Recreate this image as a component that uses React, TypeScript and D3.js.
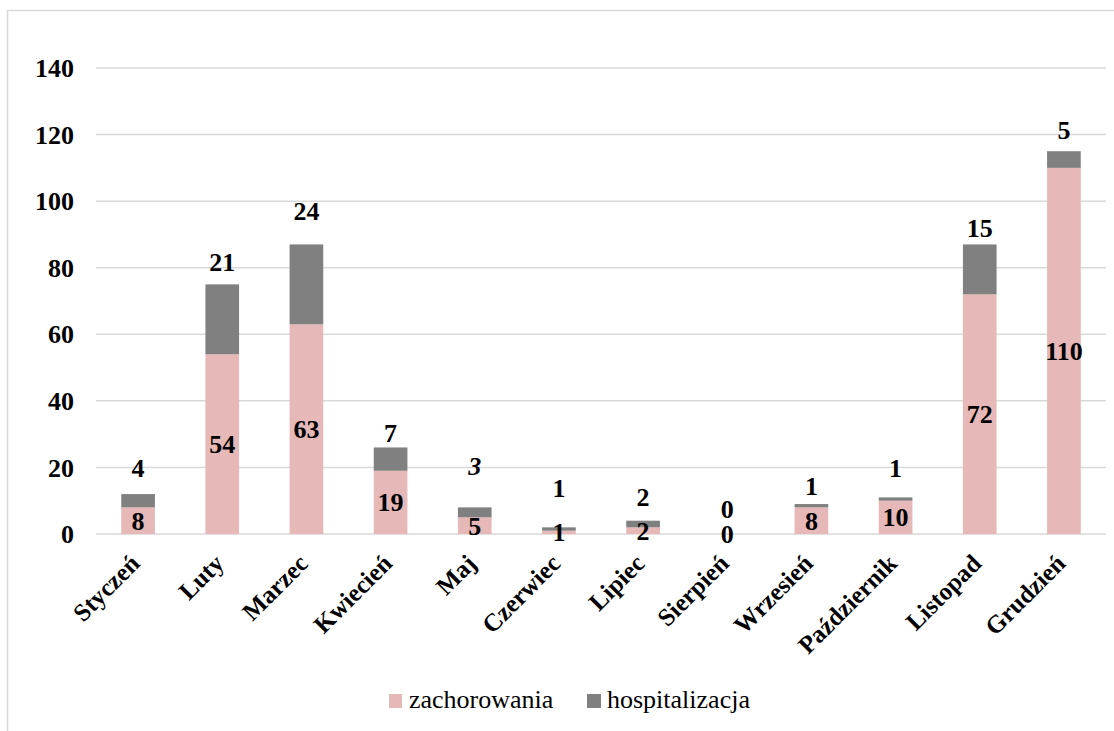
import React from 'react';
import * as d3 from 'd3';

const months = ['Styczeń', 'Luty', 'Marzec', 'Kwiecień', 'Maj', 'Czerwiec', 'Lipiec', 'Sierpień', 'Wrzesień', 'Październik', 'Listopad', 'Grudzień'];
const zachorowania = [8, 54, 63, 19, 5, 1, 2, 0, 8, 10, 72, 110];
const hospitalizacja = [4, 21, 24, 7, 3, 1, 2, 0, 1, 1, 15, 5];
// labels of the second series were dragged by hand in the original, lift in value units
const hospLabelLift = [7.8, 6.6, 10, 4.5, 12.6, 11.7, 7.2, 7.6, 5.4, 9, 5.1, 6.3];
const yTicks = [0, 20, 40, 60, 80, 100, 120, 140];

const W = 1114;
const H = 731;
const COLORS = { zach: '#e6b8b7', hosp: '#808080', grid: '#d9d9d9', text: '#000' };
const FONT = "'Liberation Serif', 'Times New Roman', Times, serif";

export default function App() {
  const x = d3.scaleBand<string>()
    .domain(months)
    .range([96, 1106])
    .paddingInner(0.6)
    .paddingOuter(0.3);

  const y = d3.scaleLinear().domain([0, 140]).range([534, 68]);

  const bw = x.bandwidth();

  return (
    <svg width={W} height={H} style={{ position: 'absolute', left: 0, top: 0, background: '#fff', fontFamily: FONT }}>
      {/* chart area border */}
      <rect x={7.5} y={10.5} width={W + 10} height={H + 10} fill="none" stroke={COLORS.grid} strokeWidth={1.5} />

      {/* gridlines + y ticks */}
      {yTicks.map(t => (
        <g key={t}>
          <line x1={96} x2={1106} y1={y(t)} y2={y(t)} stroke={COLORS.grid} strokeWidth={1.5} />
          <text x={74} y={y(t)} dy="0.35em" textAnchor="end" fontSize={26} fontWeight="bold" fill={COLORS.text} style={{ fontFamily: FONT }}>{t}</text>
        </g>
      ))}

      {/* stacked bars */}
      {months.map((m, i) => {
        const x0 = x(m)!;
        const z = zachorowania[i];
        const h = hospitalizacja[i];
        return (
          <g key={m}>
            <rect x={x0} y={y(z)} width={bw} height={y(0) - y(z)} fill={COLORS.zach} />
            <rect x={x0} y={y(z + h)} width={bw} height={y(z) - y(z + h)} fill={COLORS.hosp} />
          </g>
        );
      })}

      {/* data labels */}
      {months.map((m, i) => {
        const cx = x(m)! + bw / 2;
        const z = zachorowania[i];
        const h = hospitalizacja[i];
        return (
          <g key={m + '-lbl'} fontSize={26} fontWeight="bold" textAnchor="middle" fill={COLORS.text} style={{ fontFamily: FONT }}>
            <text x={cx} y={y(z / 2)} dy="0.35em">{z}</text>
            <text x={cx} y={y(z + h + hospLabelLift[i])} dy="0.35em" fontStyle={m === 'Maj' ? 'italic' : 'normal'}>{h}</text>
          </g>
        );
      })}

      {/* category labels */}
      {months.map(m => {
        const cx = x(m)! + bw / 2 + 3;
        return (
          <text key={m + '-cat'} transform={`translate(${cx},${565}) rotate(-45)`} textAnchor="end" fontSize={25} fontWeight="bold" fill={COLORS.text} style={{ fontFamily: FONT }}>{m}</text>
        );
      })}

      {/* legend */}
      <rect x={389} y={694} width={13} height={14} fill={COLORS.zach} />
      <text x={409} y={708} fontSize={26} fill={COLORS.text} style={{ fontFamily: FONT }}>zachorowania</text>
      <rect x={587} y={694} width={14} height={14} fill={COLORS.hosp} />
      <text x={607} y={708} fontSize={26} fill={COLORS.text} style={{ fontFamily: FONT }}>hospitalizacja</text>
    </svg>
  );
}
